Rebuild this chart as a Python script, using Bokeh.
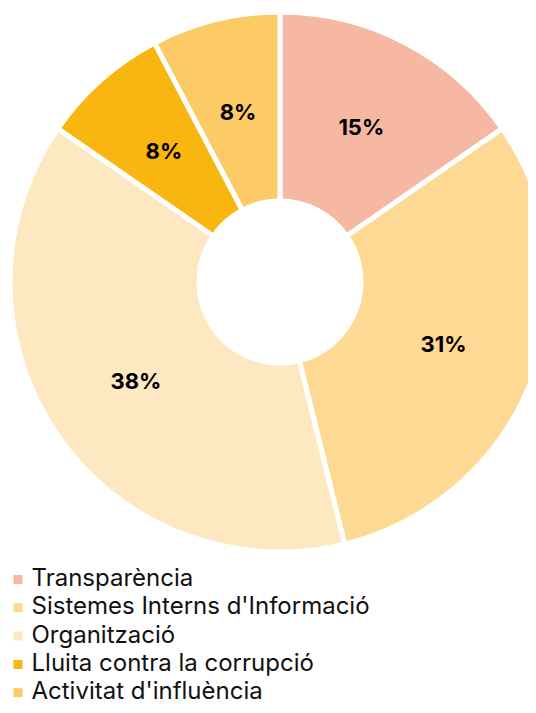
import math
from bokeh.plotting import figure
from bokeh.models import Range1d, ColumnDataSource
from bokeh.core.properties import value
from bokeh.embed import file_html
from bokeh.resources import INLINE

categories = ["Transparència", "Sistemes Interns d'Informació", "Organització",
              "Lluita contra la corrupció", "Activitat d'influència"]
shares = [15.4, 30.8, 38.5, 7.7, 7.7]
labels = ["15%", "31%", "38%", "8%", "8%"]
colors = ["#F6B8A2", "#FED993", "#FEE8C2", "#F9B510", "#FDCB65"]

W, H = 528, 705
p = figure(width=W, height=H, output_backend="svg", toolbar_location=None,
           x_range=Range1d(0, W), y_range=Range1d(-H, 0),
           min_border=0, outline_line_color=None)
p.axis.visible = False
p.grid.visible = False
p.background_fill_color = "white"
p.border_fill_color = "white"

cx, cy = 279.5, -281.5
r_in, r_out = 81.0, 270.0
total = sum(shares)
starts, ends, lx, ly = [], [], [], []
cum = 0.0
for s in shares:
    a0 = cum / total
    cum += s
    a1 = cum / total
    starts.append(math.pi / 2 - 2 * math.pi * a1)
    ends.append(math.pi / 2 - 2 * math.pi * a0)
    mid = 2 * math.pi * (a0 + a1) / 2
    lx.append(cx + 175 * math.sin(mid))
    ly.append(cy + 175 * math.cos(mid))

src = ColumnDataSource(dict(start=starts, end=ends, color=colors, lx=lx, ly=ly, lab=labels))
p.annular_wedge(x=cx, y=cy, inner_radius=r_in, outer_radius=r_out,
                start_angle="start", end_angle="end", fill_color="color",
                line_color="white", line_width=5, source=src)
p.text(x="lx", y="ly", text="lab", source=src, text_align="center", text_baseline="middle",
       text_font=value("Inter"), text_font_style="bold", text_font_size="22px", text_color="#000000")

# legend
ly0 = -577.0
step = 28.3
leg_y = [ly0 - i * step for i in range(len(categories))]
sq_y = [y - 2 for y in leg_y]
leg = ColumnDataSource(dict(y=leg_y, sy=sq_y, name=categories, color=colors))
p.rect(x=17.5, y="sy", width=9, height=9, fill_color="color", line_color=None, source=leg)
p.text(x=31, y="y", text="name", source=leg, text_align="left", text_baseline="middle",
       text_font=value("Inter"), text_font_size="24px", text_color="#111111")

open("out.html", "w").write(file_html(p, INLINE))
